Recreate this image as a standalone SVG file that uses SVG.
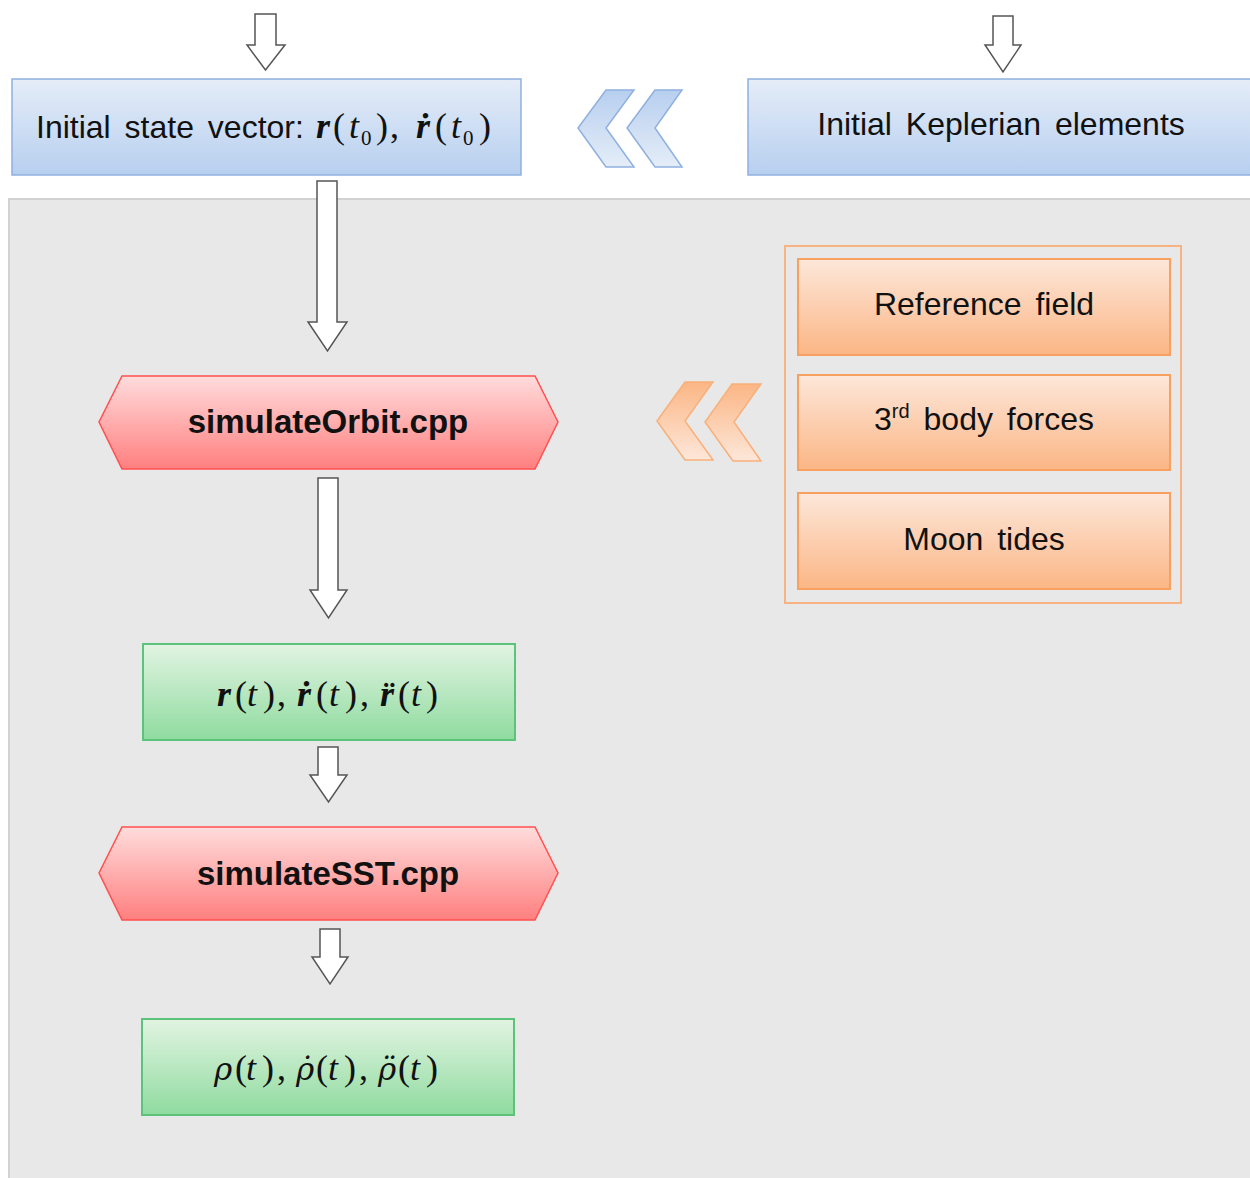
<svg xmlns="http://www.w3.org/2000/svg" width="1250" height="1178" viewBox="0 0 1250 1178">
<defs>
<linearGradient id="gBlue" x1="0" y1="0" x2="0" y2="1"><stop offset="0" stop-color="#e5edf8"/><stop offset="1" stop-color="#b7cfef"/></linearGradient>
<linearGradient id="gBlueCh" x1="0" y1="0" x2="0" y2="1"><stop offset="0" stop-color="#b7cfef"/><stop offset="1" stop-color="#e5edf8"/></linearGradient>
<linearGradient id="gRed" x1="0" y1="0" x2="0" y2="1"><stop offset="0" stop-color="#ffdcdc"/><stop offset="1" stop-color="#ff7f7f"/></linearGradient>
<linearGradient id="gGreen" x1="0" y1="0" x2="0" y2="1"><stop offset="0" stop-color="#e2f4e2"/><stop offset="1" stop-color="#8fdb9f"/></linearGradient>
<linearGradient id="gOrange" x1="0" y1="0" x2="0" y2="1"><stop offset="0" stop-color="#fde7da"/><stop offset="1" stop-color="#fbb685"/></linearGradient>
<linearGradient id="gOrangeCh" x1="0" y1="0" x2="0" y2="1"><stop offset="0" stop-color="#fbb685"/><stop offset="1" stop-color="#fde7da"/></linearGradient>
</defs>
<style>
.lbl{font-family:"Liberation Sans",Arial,sans-serif;font-size:32px;fill:#111;word-spacing:5px}
.bold{font-family:"Liberation Sans",Arial,sans-serif;font-size:33px;font-weight:bold;fill:#111;text-anchor:middle}
.math{font-family:"Liberation Serif","Times New Roman",serif;font-style:italic;font-size:36px;fill:#111}
.rho{font-family:"DejaVu Serif",serif;font-size:31px}
.up{font-style:normal}
.bv{font-weight:bold}
.blue{fill:url(#gBlue);stroke:#8fb0df;stroke-width:1.5}
.red{fill:url(#gRed);stroke:#ff5050;stroke-width:1.5}
.green{fill:url(#gGreen);stroke:#5cc47a;stroke-width:2}
.orange{fill:url(#gOrange);stroke:#f8a060;stroke-width:2}
.arrow{fill:#fff;stroke:#555;stroke-width:1.5;stroke-linejoin:miter}
</style>
<rect width="1250" height="1178" fill="#fff"/>
<rect id="panel" x="9" y="199" width="1260" height="1000" fill="#e8e8e8" stroke="#d2d2d2" stroke-width="2"/>

<g id="connectors">
<path class="arrow" d="M255,14 H276 V45 H285 L265.5,70 L247,45 H255 Z"/>
<path class="arrow" d="M993,16 H1013 V45 H1021 L1003,72 L985,45 H993 Z"/>
<path class="arrow" d="M317,181 H337 V322 H347 L327.5,351 L308,322 H317 Z"/>
<path class="arrow" d="M318,478 H338 V590 H347 L328.5,618 L310,590 H318 Z"/>
<path class="arrow" d="M318,747 H338 V775 H347 L328.5,802 L310,775 H318 Z"/>
<path class="arrow" d="M320,929 H340 V957 H348 L330,984 L312,957 H320 Z"/>
<g id="blue-chevrons" fill="url(#gBlueCh)" stroke="#8fb0df" stroke-width="1.5">
<path d="M606,90 H634 L606,128 L634,167 H606 L578,128 Z"/>
<path d="M655,90 H682 L655,128 L682,167 H655 L627,128 Z"/>
</g>
<g id="orange-chevrons" fill="url(#gOrangeCh)" stroke="#f9b07a" stroke-width="1.5">
<path d="M685,382 H713 L685,421 L713,460 H685 L657,421 Z"/>
<path d="M732,384 H761 L734,422 L761,461 H733 L705,422 Z"/>
</g>
</g>

<g id="initial-state">
<rect class="blue" x="12" y="79" width="509" height="96"/>
<text class="lbl" x="36" y="138">Initial state vector:</text>
<text class="math" y="138" font-size="33"><tspan class="bv" x="316">r</tspan><tspan class="up" x="333">(</tspan><tspan x="349">t</tspan><tspan class="up" x="361" font-size="21" dy="7">0</tspan><tspan class="up" x="376" dy="-7">)</tspan><tspan class="up" x="390">,</tspan><tspan class="bv" x="416">ṙ</tspan><tspan class="up" x="435">(</tspan><tspan x="451">t</tspan><tspan class="up" x="463" font-size="21" dy="7">0</tspan><tspan class="up" x="479" dy="-7">)</tspan></text>
</g>

<g id="keplerian">
<rect class="blue" x="748" y="79" width="520" height="96"/>
<text class="lbl" x="1001" y="135" text-anchor="middle">Initial Keplerian elements</text>
</g>

<g id="simulateOrbit">
<path class="red" d="M122,376 H535 L558,422 L535,469 H122 L99,422 Z"/>
<text class="bold" x="328" y="433">simulateOrbit.cpp</text>
</g>

<g id="forces-group">
<rect x="785" y="246" width="396" height="357" fill="none" stroke="#f8b383" stroke-width="2"/>
<g id="reference-field">
<rect class="orange" x="798" y="259" width="372" height="96"/>
<text class="lbl" x="984" y="315" text-anchor="middle">Reference field</text>
</g>
<g id="third-body">
<rect class="orange" x="798" y="375" width="372" height="95"/>
<text class="lbl" x="984" y="430" text-anchor="middle">3<tspan font-size="20" dy="-12">rd</tspan><tspan dy="12"> body forces</tspan></text>
</g>
<g id="moon-tides">
<rect class="orange" x="798" y="493" width="372" height="96"/>
<text class="lbl" x="984" y="550" text-anchor="middle">Moon tides</text>
</g>
</g>

<g id="orbit-output">
<rect class="green" x="143" y="644" width="372" height="96"/>
<text class="math" y="706"><tspan class="bv" x="217">r</tspan><tspan class="up" x="235">(</tspan><tspan x="247">t</tspan><tspan class="up" x="263">)</tspan><tspan class="up" x="277">,</tspan><tspan class="bv" x="297">ṙ</tspan><tspan class="up" x="316">(</tspan><tspan x="329">t</tspan><tspan class="up" x="345">)</tspan><tspan class="up" x="360">,</tspan><tspan class="bv" x="380">r̈</tspan><tspan class="up" x="398">(</tspan><tspan x="411">t</tspan><tspan class="up" x="426">)</tspan></text>
</g>

<g id="simulateSST">
<path class="red" d="M122,827 H535 L558,873 L535,920 H122 L99,873 Z"/>
<text class="bold" x="328" y="885">simulateSST.cpp</text>
</g>

<g id="sst-output">
<rect class="green" x="142" y="1019" width="372" height="96"/>
<text class="math" y="1080"><tspan class="rho" x="214">ρ</tspan><tspan class="up" x="235">(</tspan><tspan x="246">t</tspan><tspan class="up" x="262">)</tspan><tspan class="up" x="277">,</tspan><tspan class="rho" x="296">ρ̇</tspan><tspan class="up" x="316">(</tspan><tspan x="328">t</tspan><tspan class="up" x="344">)</tspan><tspan class="up" x="359">,</tspan><tspan class="rho" x="378">ρ̈</tspan><tspan class="up" x="398">(</tspan><tspan x="410">t</tspan><tspan class="up" x="426">)</tspan></text>
</g>
</svg>
